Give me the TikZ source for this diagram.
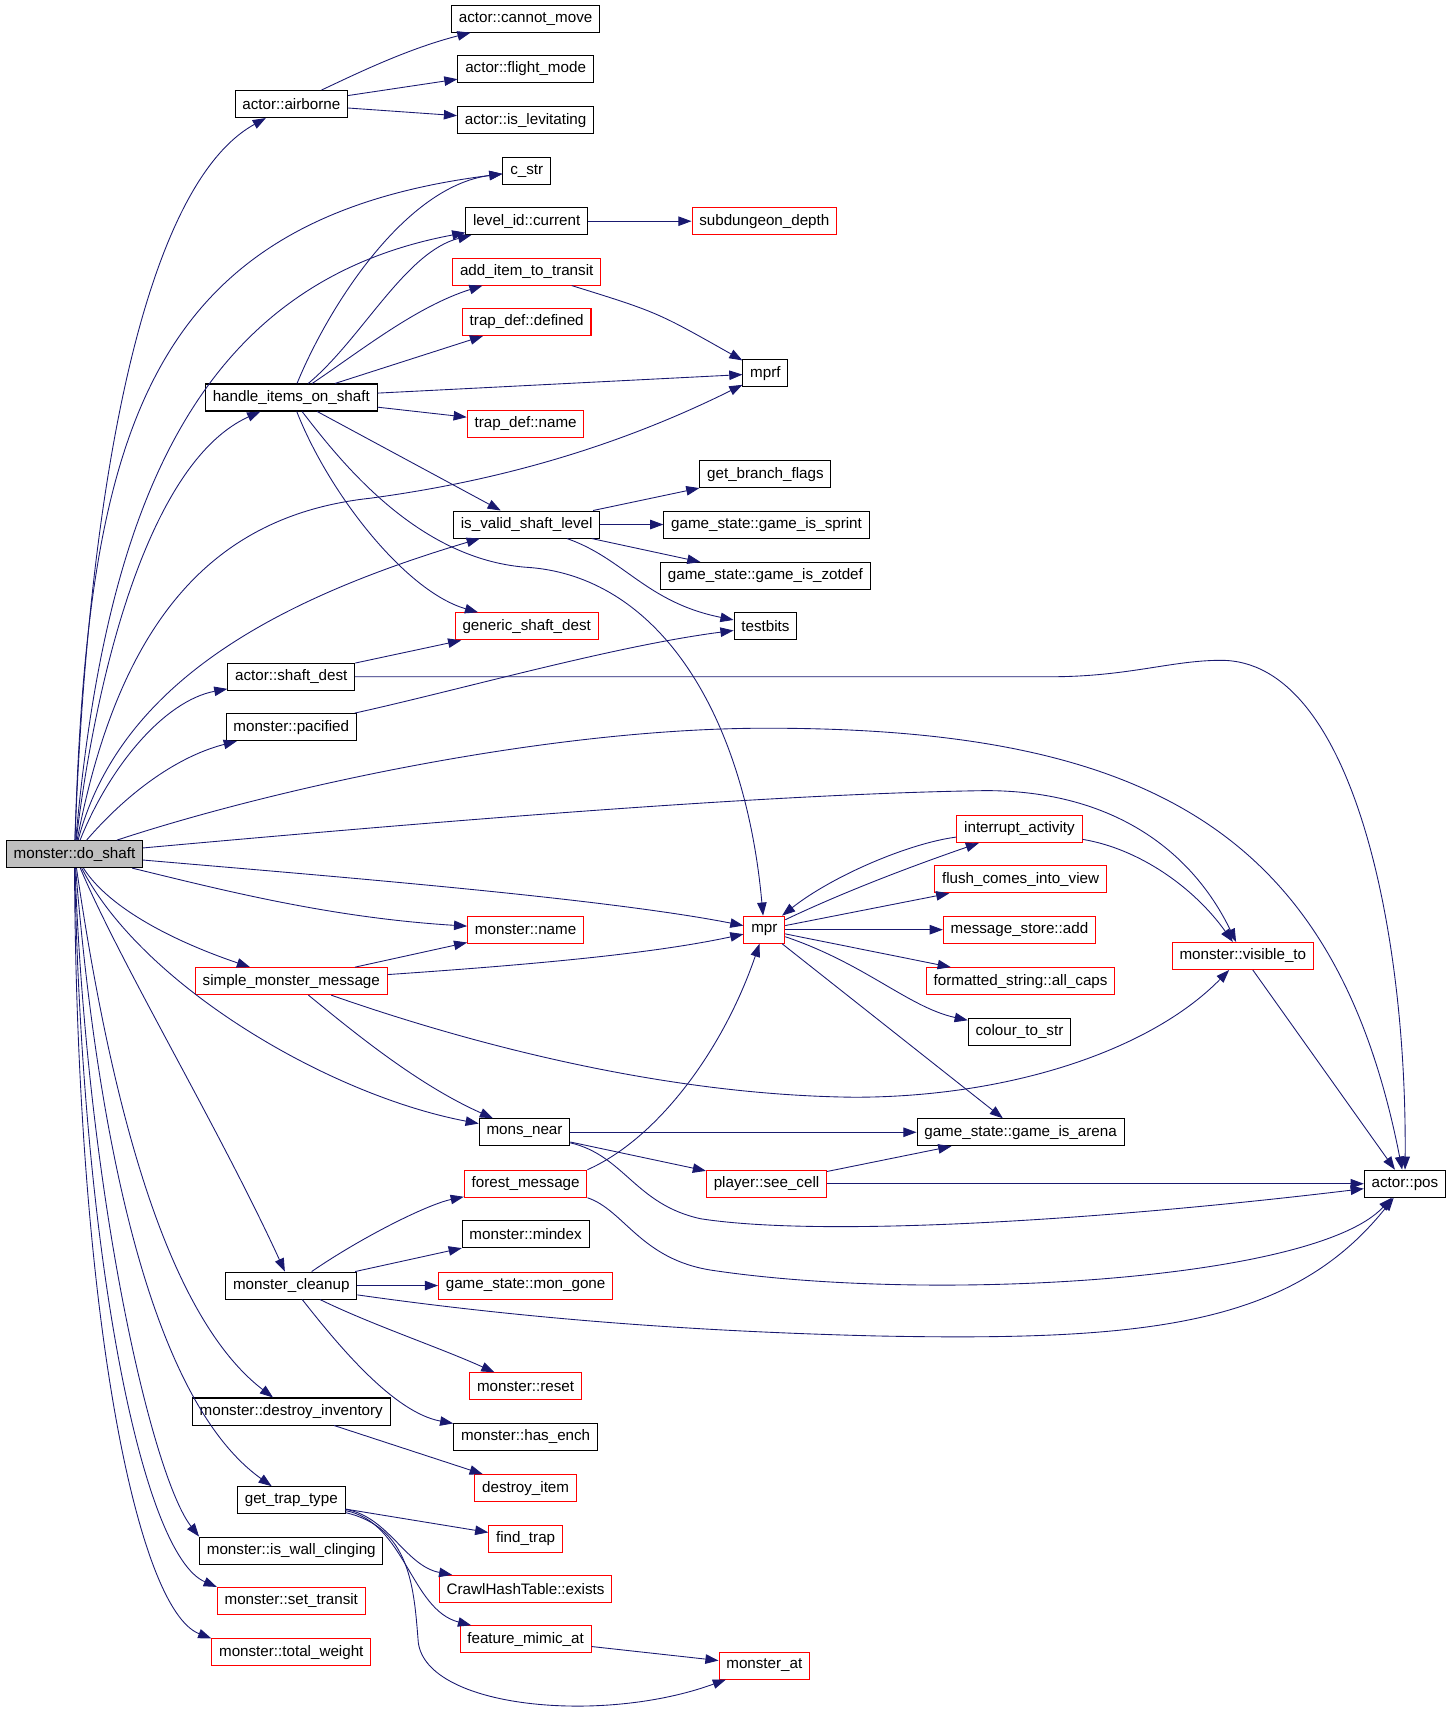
\documentclass[tikz,border=0pt]{standalone}
\usepackage{fontspec}
\setmainfont{Liberation Sans}
\usetikzlibrary{arrows.meta}
\definecolor{navy}{RGB}{25,25,112}

\begin{document}
\begin{tikzpicture}[x=0.75pt, y=-0.75pt, >={Triangle[length=9pt,width=6.5pt]}] %y points down, one unit is one pixel
\tikzstyle{every node} = [draw, rectangle, line width=0.7pt, minimum height=18.5pt, inner xsep=5pt, inner ysep=0pt, font=\fontsize{10.4}{12}\selectfont]
\tikzstyle{redfn} = [draw=red]
\tikzstyle{call} = [->, navy, line width=0.6pt]
\useasboundingbox (0,0) rectangle (1327,1568);

\node[fill=gray!50] (do) at (68,780) {monster::do\_shaft};
\node (airb) at (266,95) {actor::airborne};
\node (cmove) at (480,17) {actor::cannot\_move};
\node (flight) at (480,63) {actor::flight\_mode};
\node (levit) at (480,110) {actor::is\_levitating};
\node (cstr) at (481,156) {c\_str};
\node (lvl) at (481,202) {level\_id::current};
\node[redfn] (subd) at (698,202) {subdungeon\_depth};
\node[redfn] (addit) at (481,248) {add\_item\_to\_transit};
\node[redfn] (tdef) at (481,294) {trap\_def::defined};
\node (mprf) at (699,341) {mprf};
\node (hios) at (266,363) {handle\_items\_on\_shaft};
\node[redfn] (tname) at (480,387) {trap\_def::name};
\node (gbf) at (699,433) {get\_branch\_flags};
\node (ivsl) at (481,479) {is\_valid\_shaft\_level};
\node (sprint) at (700,479) {game\_state::game\_is\_sprint};
\node (zotdef) at (699,526) {game\_state::game\_is\_zotdef};
\node[redfn] (gsd) at (481,572) {generic\_shaft\_dest};
\node (tbits) at (699,572) {testbits};
\node (sdest) at (266,618) {actor::shaft\_dest};
\node (pacif) at (266,664) {monster::pacified};
\node[redfn] (intr) at (931,757) {interrupt\_activity};
\node[redfn] (flush) at (932,803) {flush\_comes\_into\_view};
\node[redfn] (mpr) at (698,849) {mpr};
\node[redfn] (mname) at (480,849) {monster::name};
\node[redfn] (msadd) at (931,849) {message\_store::add};
\node[redfn] (visto) at (1135,873) {monster::visible\_to};
\node[redfn] (smm) at (266,896) {simple\_monster\_message};
\node[redfn] (caps) at (932,896) {formatted\_string::all\_caps};
\node (col) at (931,942) {colour\_to\_str};
\node (near) at (479,1034) {mons\_near};
\node (arena) at (932,1034) {game\_state::game\_is\_arena};
\node[redfn] (forest) at (480,1081) {forest\_message};
\node[redfn] (seec) at (700,1081) {player::see\_cell};
\node (pos) at (1283,1081) {actor::pos};
\node (mindex) at (480,1127) {monster::mindex};
\node (clean) at (266,1174) {monster\_cleanup};
\node[redfn] (gone) at (480,1174) {game\_state::mon\_gone};
\node[redfn] (reset) at (480,1266) {monster::reset};
\node (dinv) at (266,1289) {monster::destroy\_inventory};
\node (hench) at (480,1312) {monster::has\_ench};
\node[redfn] (ditem) at (480,1359) {destroy\_item};
\node (gtt) at (266,1370) {get\_trap\_type};
\node[redfn] (ftrap) at (480,1405) {find\_trap};
\node (wallc) at (266,1416) {monster::is\_wall\_clinging};
\node[redfn] (chte) at (480,1451) {CrawlHashTable::exists};
\node[redfn] (settr) at (266,1462) {monster::set\_transit};
\node[redfn] (fmim) at (480,1497) {feature\_mimic\_at};
\node[redfn] (totw) at (266,1509) {monster::total\_weight};
\node[redfn] (mat) at (698,1521) {monster\_at};

% calls made by monster::do_shaft
\draw[call] (do) .. controls (80,450) and (130,170) .. (airb);
\draw[call] (do) .. controls (80,400) and (130,200) .. (cstr);
\draw[call] (do) .. controls (95,480) and (170,260) .. (lvl);
\draw[call] (do) .. controls (90,600) and (140,420) .. (hios);
\draw[call] (do) .. controls (110,560) and (200,470) .. (338,455) .. controls (450,440) and (560,410) .. (mprf);
\draw[call] (do) .. controls (110,620) and (260,545) .. (ivsl);
\draw[call] (do) .. controls (100,700) and (150,640) .. (sdest);
\draw[call] (do) .. controls (120,720) and (165,690) .. (pacif);
\draw[call] (do) .. controls (250,720) and (500,665) .. (700,665) .. controls (1050,665) and (1220,760) .. (pos);
\draw[call] (do) .. controls (400,750) and (700,725) .. (900,722) .. controls (1020,722) and (1090,780) .. (visto);
\draw[call] (do) .. controls (300,800) and (550,820) .. (mpr);
\draw[call] (do) .. controls (200,812) and (300,838) .. (mname);
\draw[call] (do) .. controls (100,830) and (160,860) .. (smm);
\draw[call] (do) .. controls (130,900) and (300,1000) .. (near);
\draw[call] (do) .. controls (110,880) and (200,1030) .. (clean);
\draw[call] (do) .. controls (100,1000) and (150,1200) .. (dinv);
\draw[call] (do) .. controls (90,1050) and (140,1280) .. (gtt);
\draw[call] (do) .. controls (80,1100) and (140,1350) .. (wallc.north west);
\draw[call] (do) .. controls (75,1150) and (130,1420) .. (settr.north west);
\draw[call] (do) .. controls (70,1200) and (125,1470) .. (totw.north west);

% straight calls
\foreach \from/\to in {airb/flight, airb/levit, lvl/subd, hios/tdef, hios/mprf, hios/tname, hios/ivsl,
  ivsl/gbf, ivsl/sprint, ivsl/zotdef, sdest/gsd, mpr/flush, mpr/msadd, mpr/caps, mpr/arena, visto/pos,
  smm/mname, near/arena, near/seec, seec/arena, seec/pos, clean/mindex, clean/gone, dinv/ditem,
  gtt/ftrap, fmim/mat}
\draw[call] (\from) -- (\to);

% curved calls
\draw[call] (airb) .. controls (320,70) and (370,45) .. (cmove);
\draw[call] (addit) .. controls (600,285) .. (mprf);
\draw[call] (hios) .. controls (300,280) and (370,170) .. (cstr);
\draw[call] (hios) .. controls (330,310) and (370,230) .. (lvl);
\draw[call] (hios) .. controls (330,320) and (380,280) .. (addit);
\draw[call] (hios) .. controls (300,450) and (370,540) .. (gsd);
\draw[call] (hios) .. controls (310,420) and (380,510) .. (480,518) .. controls (600,525) and (680,650) .. (mpr);
\draw[call] (ivsl) .. controls (570,510) and (590,550) .. (tbits);
\draw[call] (sdest) -- (960,618) .. controls (1030,618) and (1070,603) .. (1115,603) .. controls (1235,603) and (1285,850) .. (pos);
\draw[call] (pacif) .. controls (420,630) and (560,590) .. (tbits);
\draw[call] (intr) .. controls (830,770) and (760,800) .. (mpr);
\draw[call] (mpr) .. controls (780,810) and (850,785) .. (intr);
\draw[call] (mpr) .. controls (790,880) and (830,920) .. (col);
\draw[call] (intr) .. controls (1040,775) and (1090,810) .. (visto);
\draw[call] (smm) .. controls (500,880) and (600,870) .. (mpr);
\draw[call] (smm) .. controls (320,940) and (380,990) .. (near);
\draw[call] (smm) .. controls (420,950) and (600,1000) .. (780,1002) .. controls (920,1002) and (1050,960) .. (visto);
\draw[call] (near) .. controls (570,1055) and (580,1100) .. (640,1113) .. controls (750,1130) and (1000,1115) .. (pos);
\draw[call] (forest.north east) .. controls (600,1040) and (660,960) .. (mpr);
\draw[call] (forest.south east) .. controls (570,1105) and (585,1150) .. (650,1160) .. controls (850,1190) and (1200,1170) .. (pos);
\draw[call] (clean) .. controls (330,1130) and (390,1100) .. (forest);
\draw[call] (clean) .. controls (450,1200) and (600,1215) .. (800,1220) .. controls (1050,1225) and (1180,1210) .. (pos);
\draw[call] (clean) .. controls (340,1210) and (400,1230) .. (reset);
\draw[call] (clean) .. controls (310,1230) and (360,1290) .. (hench);
\draw[call] (gtt) .. controls (355,1385) and (370,1430) .. (chte);
\draw[call] (gtt) .. controls (370,1390) and (375,1470) .. (fmim);
\draw[call] (gtt) .. controls (375,1395) and (378,1450) .. (382,1500) .. controls (390,1560) and (550,1575) .. (mat);
\end{tikzpicture}
\end{document}
